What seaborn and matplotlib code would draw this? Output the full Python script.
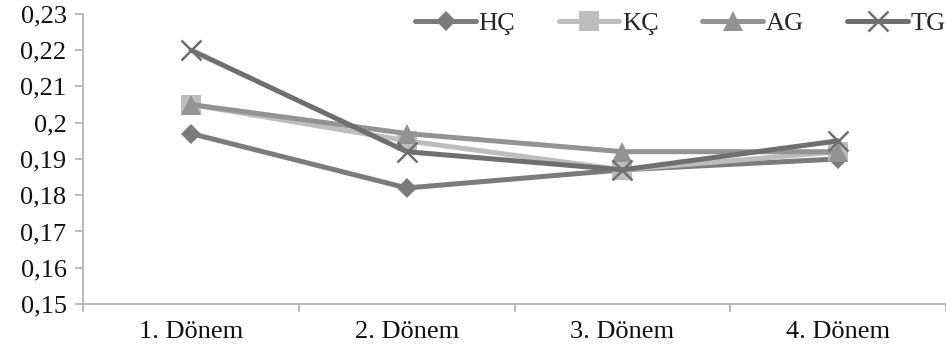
import matplotlib
matplotlib.use("Agg")
import matplotlib.pyplot as plt
import seaborn as sns
import pandas as pd
import numpy as np

# Period labels and series values
periods = ["1. Dönem", "2. Dönem", "3. Dönem", "4. Dönem"]
hc = [0.197, 0.182, 0.187, 0.190]
kc = [0.205, 0.195, 0.187, 0.192]
ag = [0.205, 0.197, 0.192, 0.192]
tg = [0.220, 0.192, 0.187, 0.195]
series_names = ["HÇ", "KÇ", "AG", "TG"]
y_ticks = [0.15, 0.16, 0.17, 0.18, 0.19, 0.20, 0.21, 0.22, 0.23]

sns.set_theme(style="white")
plt.rcParams["font.family"] = ["Liberation Serif", "DejaVu Serif"]

df = pd.DataFrame({"Dönem": periods * 4,
                   "x": list(range(len(periods))) * 4,
                   "Değer": hc + kc + ag + tg,
                   "Seri": [s for s in series_names for _ in periods]})

styles = {
    "HÇ": dict(color="#7b7b7b", marker="D", ms=10, mew=0),
    "KÇ": dict(color="#bdbdbd", marker="s", ms=14, mew=0),
    "AG": dict(color="#939393", marker="^", ms=14, mew=0),
    "TG": dict(color="#6f6f6f", marker="x", ms=14, mew=1.8),
}

fig = plt.figure(figsize=(9.46, 3.56), dpi=100)
ax = fig.add_axes([0.088, 0.146, 0.912, 0.815])

for name in series_names:
    st = styles[name]
    sub = df[df["Seri"] == name]
    sns.lineplot(data=sub, x="x", y="Değer", ax=ax, color=st["color"],
                 linewidth=3.6, marker=st["marker"], markersize=st["ms"],
                 markeredgewidth=st["mew"], markeredgecolor=st["color"],
                 markerfacecolor=st["color"], label=name, sort=False)

ax.set_xlim(-0.5, len(periods) - 0.5)
ax.set_ylim(0.15, 0.23)
ax.set_xlabel("")
ax.set_ylabel("")

axis_color = "#b4b4b4"
for side in ["top", "right"]:
    ax.spines[side].set_visible(False)
for side in ["left", "bottom"]:
    ax.spines[side].set_color(axis_color)
    ax.spines[side].set_linewidth(1.3)

ax.set_yticks(y_ticks)
ax.set_yticklabels([f"{v:g}".replace(".", ",") for v in y_ticks])
ax.set_xticks(range(len(periods)))
ax.set_xticklabels(periods)
ax.set_xticks(np.arange(-0.5, len(periods)), minor=True)
ax.tick_params(axis="x", which="major", length=0, pad=12, labelsize=19, labelcolor="#111111")
ax.tick_params(axis="x", which="minor", length=6, width=1.3, color=axis_color, direction="out", bottom=True)
ax.tick_params(axis="y", length=6, width=1.3, color=axis_color, direction="out", left=True,
               labelsize=19, labelcolor="#111111", pad=6)

leg = ax.legend(loc="center right", bbox_to_anchor=(1.0, 0.966), ncol=4, frameon=False,
                fontsize=19, handlelength=2.3, handletextpad=0.1, columnspacing=1.65,
                borderaxespad=0, borderpad=0)

fig.savefig("out.png", dpi=100)
